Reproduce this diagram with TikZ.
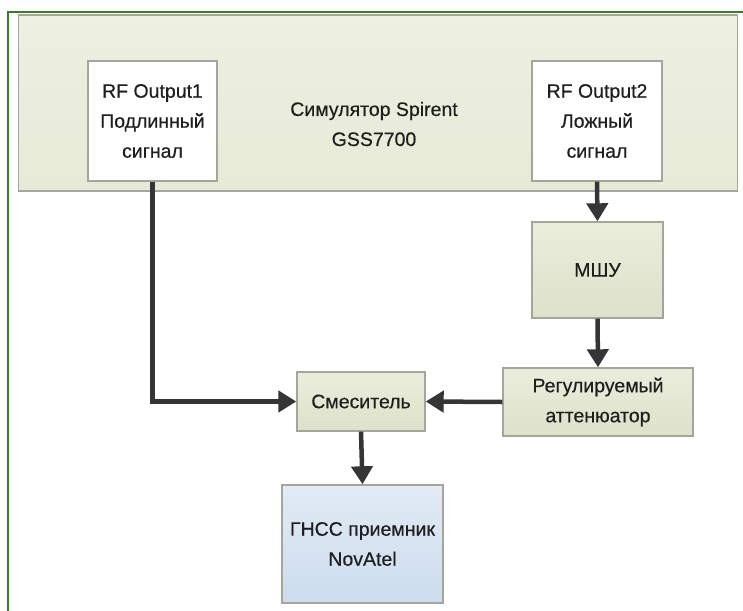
\documentclass[tikz,border=0pt]{standalone}
\usepackage{fontspec}
\setmainfont{Liberation Sans}[FakeBold=0.4]
\usetikzlibrary{arrows.meta}
\definecolor{frame}{HTML}{3E7A2A}
\definecolor{edge}{HTML}{A5A59C}
\definecolor{ink}{HTML}{1E1E1E}
\definecolor{arr}{HTML}{353535}
\definecolor{simtop}{HTML}{EEF0E2}
\definecolor{simbot}{HTML}{E6EAD6}
\definecolor{gtop}{HTML}{EAEDDB}
\definecolor{gbot}{HTML}{DDE2CA}
\definecolor{btop}{HTML}{E2EBF5}
\definecolor{bbot}{HTML}{CCDCEE}
\tikzset{
  lbl/.style={font=\fontsize{19.5}{30}\selectfont, text=ink, align=center},
  simbox/.style={draw=edge, line width=1.4pt, top color=simtop, bottom color=simbot},
  greenbox/.style={draw=edge, line width=1.4pt, top color=gtop, bottom color=gbot},
  bluebox/.style={draw=edge, line width=1.4pt, top color=btop, bottom color=bbot},
  whitebox/.style={draw=edge, line width=1.4pt, fill=white},
  conn/.style={draw=arr, line width=4.5pt, -{Triangle[length=18pt,width=21pt]}},
}
\begin{document}
\begin{tikzpicture}[x=1pt, y=-1pt]
\useasboundingbox (0,0) rectangle (743,610);
\fill[white] (0,0) rectangle (743,610);
% outer green frame (cut at right and bottom)
\draw[frame, line width=2.8pt] (8,612) -- (8,12) -- (745,12);
% simulator
\node[simbox, minimum width=719pt, minimum height=176pt, inner sep=0pt] (sim) at (378,103) {};
\node[lbl] (simtxt) at (374,124) {Симулятор Spirent\\GSS7700};
% RF outputs
\node[whitebox, lbl, minimum width=129pt, minimum height=120pt, inner sep=0pt] (rf1) at (152.5,121) {RF Output1\\Подлинный\\сигнал};
\node[whitebox, lbl, minimum width=130pt, minimum height=120pt, inner sep=0pt] (rf2) at (597,121) {RF Output2\\Ложный\\сигнал};
% LNA
\node[greenbox, lbl, minimum width=131pt, minimum height=96pt, inner sep=0pt] (lna) at (597.5,270) {МШУ};
% attenuator
\node[greenbox, lbl, minimum width=190pt, minimum height=68pt, inner sep=0pt] (att) at (598,402) {Регулируемый\\аттенюатор};
% mixer
\node[greenbox, lbl, minimum width=128pt, minimum height=59pt, inner sep=0pt] (mix) at (361,401.5) {Смеситель};
% receiver
\node[bluebox, lbl, minimum width=161pt, minimum height=118pt, inner sep=0pt] (rx) at (362.5,544) {ГНСС приемник\\NovAtel};
% connectors
\draw[conn] (rf1.south) |- (mix.west);
\draw[conn] (rf2.south) -- (lna.north);
\draw[conn] (lna.south) -- (att.north);
\draw[conn] (att.west) -- (mix.east);
\draw[conn] (mix.south) -- (rx.north);
\end{tikzpicture}
\end{document}
